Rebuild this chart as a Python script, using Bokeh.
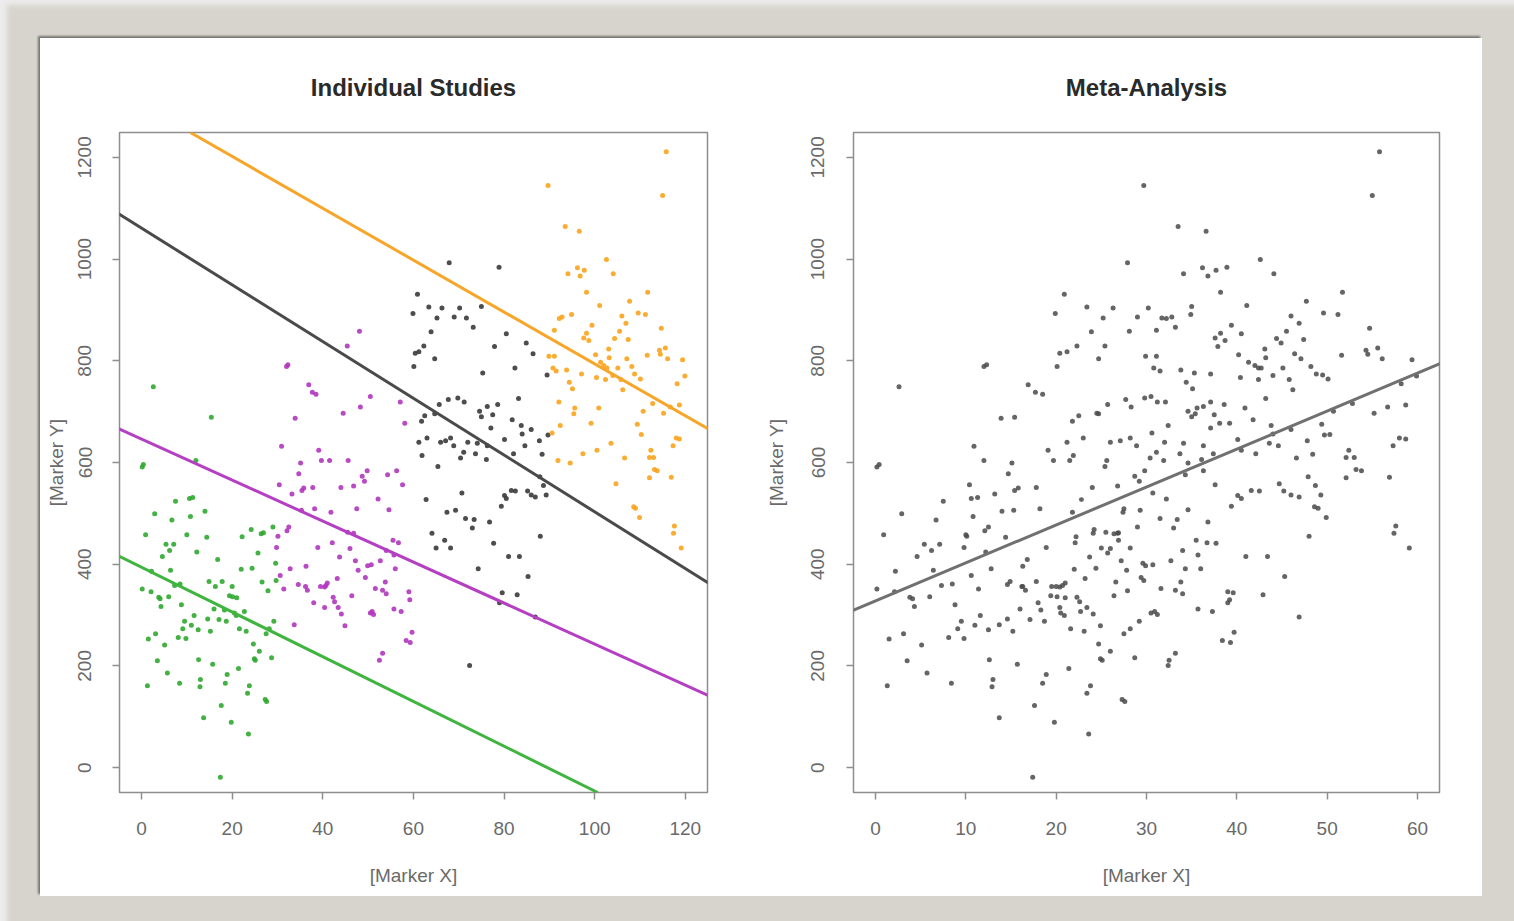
from bokeh.plotting import figure
from bokeh.models import Range1d, FixedTicker, Slope, Title
from bokeh.layouts import row, column
from bokeh.embed import file_html
from bokeh.resources import INLINE

# ---------------- data ----------------
green_x = [2.6, 15.4, 0.15, 0.4, 12, 7.5, 10.6, 11.3, 2.9, 6.7, 10.8, 14, 0.9, 10, 14.4, 5.4, 7.1, 6.2, 4.6, 12.2,
           16.8, 22.2, 24.2, 26.4, 26.9, 29, 25.7, 22, 24.4, 29.6, 2.2, 6.4, 7.3, 8.5, 0.15, 2.1, 3.8, 4.1, 6, 4.3,
           8.8, 14.9, 16.3, 17.8, 20, 19.4, 20.1, 21, 26.6, 27.9, 29.7, 16, 18.3, 20.5, 20.9, 22.7, 11.6, 9.5, 9.1, 11,
           12.5, 14.6, 17.1, 18.7, 15.2, 21.6, 23.1, 29.2, 28.2, 27.5, 3.1, 1.5, 8.1, 9.8, 5.1, 24.7, 26, 3.5, 12.6, 15.7,
           24.9, 25.1, 28.7, 21.4, 5.7, 18.9, 1.3, 8.4, 13, 12.9, 18.5, 23.8, 23.4, 27.3, 27.6, 17.6, 13.7, 19.8, 23.6, 17.4]
green_y = [749, 689, 591, 596, 604, 524, 529, 531, 499, 487, 494, 504, 458, 458, 453, 439, 439, 427, 415, 424,
           409, 454, 468, 460, 462, 473, 422, 390, 392, 402, 386, 388, 358, 361, 351, 346, 335, 332, 336, 317,
           320, 366, 356, 366, 356, 338, 336, 334, 365, 348, 368, 312, 310, 304, 299, 307, 299, 288, 273, 280,
           271, 292, 291, 288, 268, 273, 268, 288, 273, 263, 263, 253, 256, 254, 241, 243, 229, 210, 212, 203,
           214, 211, 216, 195, 186, 183, 161, 166, 173, 159, 166, 161, 146, 134, 130, 122, 98, 89, 66, -19]

purple_x = [48.1, 45.4, 32, 32.3, 36.9, 37.7, 38.5, 50.5, 48.3, 44.5, 57.1, 58.1, 33.9, 30.9, 39.1, 39.7, 41.5, 45.6,
            35.1, 34.7, 49.8, 48.7, 49.2, 54.3, 56.3, 30.4, 35.4, 35.8, 33.2, 37.8, 44, 46.8, 57.6, 52.2, 38.2, 41.8,
            47.5, 54.6, 35.3, 32.5, 32.1, 30.1, 29.8, 45.5, 46.8, 55.5, 56.7, 54, 55.7, 38.9, 42.1, 46, 43.7, 47.2,
            49.9, 50.7, 52.7, 32.8, 36.3, 47.8, 56, 30.6, 31.4, 34.6, 36.2, 36.6, 39.5, 40.4, 41, 40.7, 43.2, 49.4,
            51.6, 53.2, 53.8, 54, 59, 59.2, 42.3, 42.6, 46.4, 38, 40.4, 43.4, 44.1, 50.5, 51.2, 50.9, 55.7, 57.3,
            44.9, 33.7, 59.7, 58.4, 59.3, 53.2, 52.5]
purple_y = [858, 829, 789, 792, 753, 738, 734, 730, 709, 697, 719, 677, 687, 632, 624, 604, 604, 604,
            599, 578, 584, 573, 563, 576, 584, 556, 545, 550, 538, 551, 551, 554, 556, 528, 509, 502,
            509, 507, 506, 473, 466, 455, 433, 463, 461, 447, 442, 427, 418, 433, 442, 431, 414, 407,
            397, 399, 407, 391, 396, 388, 391, 378, 351, 360, 356, 349, 356, 355, 363, 358, 372, 374,
            352, 349, 365, 342, 346, 330, 335, 326, 338, 324, 315, 315, 302, 304, 301, 307, 312, 307,
            279, 281, 266, 250, 246, 225, 211]

black_x = [67.9, 78.9, 60.9, 59.9, 63.4, 66.3, 70.2, 75, 65.2, 69, 71.7, 73.2, 63.9, 62.3, 60.4, 61.2, 64.7, 60.1,
           77.9, 80.5, 84.9, 86.4, 82.4, 75.3, 89.5, 65.7, 67.7, 69.8, 71.2, 83.2, 62.5, 61.8, 64.7, 74.6, 75, 76.3,
           77.5, 78.6, 77.1, 81.8, 83.8, 84, 86, 63, 61.2, 66, 67.1, 68.2, 68.9, 72, 74.1, 76.3, 73.7, 71.1, 70.4,
           76.1, 61.9, 65.4, 80.1, 84.6, 87.8, 82.1, 88.4, 89.7, 87.9, 88.7, 89.3, 62.8, 70.7, 80.1, 80.5, 81.6,
           82.5, 85.2, 86, 86.9, 79.4, 67.4, 69.3, 71.5, 73.4, 73, 76.8, 64.1, 66.9, 65, 68.2, 77.7, 88, 81, 83.4,
           74.3, 85.3, 79.6, 82.9, 79, 86.9, 72.4]
black_y = [993, 984, 931, 893, 906, 904, 904, 907, 884, 886, 884, 866, 857, 829, 815, 818, 804, 789,
           828, 853, 835, 814, 786, 776, 772, 714, 724, 727, 719, 726, 692, 681, 696, 701, 690, 710,
           694, 714, 668, 684, 673, 656, 665, 648, 640, 640, 643, 648, 633, 640, 638, 633, 617, 620, 609,
           606, 614, 592, 645, 633, 643, 617, 616, 654, 572, 555, 536, 527, 540, 535, 529, 545,
           544, 544, 536, 532, 514, 502, 506, 490, 488, 471, 483, 461, 447, 432, 432, 441, 455, 415, 415,
           391, 376, 344, 340, 324, 296, 201]

orange_x = [115.8, 89.7, 115, 93.5, 96.6, 102.6, 96.2, 97.7, 94.1, 96.8, 104.1, 98.2, 111.7, 107.7, 101.1, 92.8,
            92.2, 94.9, 106, 109.6, 111.2, 106.9, 99.4, 91.1, 98.2, 97.6, 98.7, 105.5, 104.4, 107.4, 114.7, 103.1,
            114.3, 114.5, 115.6, 111.6, 89.9, 91.1, 100.2, 103.2, 107.1, 116.1, 119.4, 101.3, 102, 102.7, 90.8,
            91.5, 93.8, 97.1, 105.1, 108.2, 108.8, 110.1, 100.4, 102.4, 104, 105.8, 119.9, 118.2, 94.4, 95.1,
            106.2, 92.1, 100.9, 95.6, 95.4, 112.8, 110.7, 116.7, 118.7, 115.2, 99.2, 92.4, 109.4, 90.6, 110.3,
            118, 118.7, 117.3, 103.6, 100.5, 97.4, 91.9, 94.6, 106.6, 112.4, 113, 112.1, 113.2, 113.8, 112.1,
            116.9, 104.7, 108.6, 109, 109.9, 117.6, 117.4, 119.1]
orange_y = [1211, 1145, 1125, 1064, 1055, 999, 983, 978, 971, 967, 971, 935, 935, 917, 909, 886,
            883, 891, 888, 894, 891, 874, 870, 860, 854, 845, 840, 858, 844, 842, 864, 823,
            821, 813, 825, 811, 809, 809, 812, 806, 804, 804, 802, 797, 791, 786, 786,
            780, 782, 774, 786, 789, 774, 764, 767, 763, 771, 763, 770, 755, 758, 745,
            743, 719, 707, 707, 696, 716, 701, 709, 713, 697, 677, 673, 675, 658, 655,
            648, 646, 633, 638, 624, 617, 604, 599, 609, 624, 610, 610, 586, 584, 570,
            571, 558, 513, 510, 492, 475, 461, 432]

study_names = ["green", "purple", "black", "orange"]
study_offsets = [0, 20, 40, 60]          # horizontal displacement of each study in the left panel
study_slopes = [-4.4, -4.03, -5.58, -5.1]
study_intercepts = [394, 646, 1061, 1304]
pooled_slope = 7.46
pooled_intercept = 328

left_x_ticks = [0, 20, 40, 60, 80, 100, 120]
right_x_ticks = [0, 10, 20, 30, 40, 50, 60]
y_ticks = [0, 200, 400, 600, 800, 1000, 1200]

# ---------------- styling ----------------
point_colors = ["#2fa82f", "#b036bd", "#3a3a3a", "#f9a41c"]
line_colors = ["#3fb43f", "#b53fc2", "#4a4a4a", "#f7a62a"]
FONT = "Liberation Sans"
BOX = "#8e8e8e"
TXT = "#6a6a6a"


def make_fig(title, xr, xticks, min_left, min_right, ytick_standoff, ylab_standoff):
    p = figure(width=721, height=858, output_backend="svg", toolbar_location=None,
               x_range=Range1d(*xr), y_range=Range1d(-49, 1249),
               min_border_left=min_left, min_border_right=min_right,
               min_border_top=94, min_border_bottom=104)
    p.grid.visible = False
    p.outline_line_color = BOX
    p.outline_line_width = 1.5
    p.background_fill_color = "white"
    p.border_fill_color = "white"
    p.title = Title(text=title, align="center", text_font=FONT, text_font_size="24px",
                    text_font_style="bold", text_color="#2a2a2a", standoff=64)
    for ax in (p.xaxis[0], p.yaxis[0]):
        ax.axis_line_color = None
        ax.major_tick_line_color = BOX
        ax.major_tick_line_width = 1.5
        ax.major_tick_in = 0
        ax.major_tick_out = 7
        ax.minor_tick_line_color = None
        ax.major_label_text_font = FONT
        ax.major_label_text_font_size = "19px"
        ax.major_label_text_color = TXT
        ax.axis_label_text_font = FONT
        ax.axis_label_text_font_size = "19px"
        ax.axis_label_text_font_style = "normal"
        ax.axis_label_text_color = TXT
    p.xaxis[0].ticker = FixedTicker(ticks=xticks)
    p.yaxis[0].ticker = FixedTicker(ticks=y_ticks)
    p.xaxis[0].axis_label = "[Marker X]"
    p.yaxis[0].axis_label = "[Marker Y]"
    p.xaxis[0].major_label_standoff = 22
    p.xaxis[0].axis_label_standoff = 27
    p.yaxis[0].major_label_orientation = "vertical"
    p.yaxis[0].major_label_standoff = ytick_standoff
    p.yaxis[0].axis_label_standoff = ylab_standoff
    return p


left = make_fig("Individual Studies", (-4.86, 124.9), left_x_ticks, 79, 54, 21, 9)
right = make_fig("Meta-Analysis", (-2.44, 62.44), right_x_ticks, 92, 43, 22, 22)

studies_x = [green_x, purple_x, black_x, orange_x]
studies_y = [green_y, purple_y, black_y, orange_y]

pooled_x, pooled_y = [], []
for xs, ys, off, pc in zip(studies_x, studies_y, study_offsets, point_colors):
    left.scatter(xs, ys, size=5, color=pc, alpha=0.9, line_color=None)
    pooled_x += [x - off for x in xs]
    pooled_y += list(ys)

for sl, ic, lc in zip(study_slopes, study_intercepts, line_colors):
    left.add_layout(Slope(gradient=sl, y_intercept=ic, line_color=lc, line_width=3))

right.scatter(pooled_x, pooled_y, size=5, color="#4a4a4a", alpha=0.85, line_color=None)
right.add_layout(Slope(gradient=pooled_slope, y_intercept=pooled_intercept, line_color="#707070", line_width=3))

inner = row(left, right, margin=(38, 32, 25, 40),
            styles={"box-shadow": "-2px -2px 2px rgba(0,0,0,0.45)", "background-color": "white"})
outer = column(inner, width=1514, height=921,
               styles={"background-color": "#d6d4cc", "box-shadow": "inset 9px 7px 5px -2px #ececec"})

open("out.html", "w").write(file_html(outer, INLINE))
